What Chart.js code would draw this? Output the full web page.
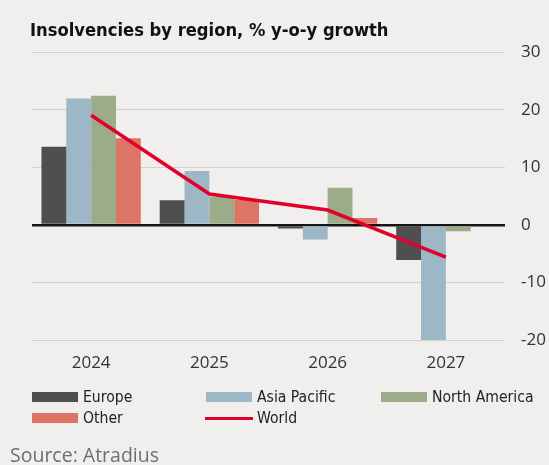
<!DOCTYPE html>
<html>
<head>
<meta charset="utf-8">
<script src="https://cdn.jsdelivr.net/npm/chart.js@4.4.0/dist/chart.umd.min.js"></script>
<style>
  html, body { margin: 0; padding: 0; background: #f1efed; }
  #wrap { position: relative; width: 549px; height: 465px; overflow: hidden; background: #f1efed; }
  #c { position: absolute; left: 0; top: 0; }
  #title { position: absolute; left: 30px; top: 19px; font-family: "DejaVu Sans Condensed", "DejaVu Sans", sans-serif; font-weight: bold; font-size: 18.2px; color: #111; white-space: nowrap; }
  .leg { position: absolute; font-family: "DejaVu Sans Condensed", "DejaVu Sans", sans-serif; font-size: 15.6px; color: #222; white-space: nowrap; display: flex; align-items: center; height: 20px; }
  .sw { width: 46px; height: 10px; margin-right: 5px; }
  .swl { width: 48px; height: 3px; margin-right: 4px; }
  #source { position: absolute; left: 10px; top: 441px; font-family: "Open Sans", sans-serif; font-size: 19.5px; color: #6e6e6e; white-space: nowrap; }
</style>
</head>
<body>
<div id="wrap">
  <canvas id="c" width="549" height="465"></canvas>
  <div id="title">Insolvencies by region, % y-o-y growth</div>
  <div id="legend"></div>
  <div id="source">Source: Atradius</div>
</div>
<script>
const categories = ['2024', '2025', '2026', '2027'];
const europe = [13.6, 4.3, -0.6, -6.1];
const asiaPacific = [22.0, 9.4, -2.5, -20.0];
const northAmerica = [22.5, 4.9, 6.5, -1.1];
const other = [15.1, 4.4, 1.2, null];
const world = [19.1, 5.4, 2.6, -5.6];
const seriesNames = ['Europe', 'Asia Pacific', 'North America', 'Other', 'World'];
const yMin = -20, yMax = 30, yStep = 10;

const colors = {
  'Europe': '#4f4f4f',
  'Asia Pacific': '#9db7c6',
  'North America': '#9cab89',
  'Other': '#dc7563',
  'World': '#e0022c'
};

const barData = [europe, asiaPacific, northAmerica, other];
const datasets = barData.map((d, i) => ({
  type: 'bar',
  label: seriesNames[i],
  data: d,
  backgroundColor: colors[seriesNames[i]],
  borderWidth: 0,
  categoryPercentage: 0.84,
  barPercentage: 1.0,
  order: 1
}));
datasets.push({
  type: 'line',
  label: 'World',
  data: world,
  borderColor: colors['World'],
  borderWidth: 3.5,
  pointRadius: 0,
  tension: 0,
  fill: false,
  order: 0
});

new Chart(document.getElementById('c'), {
  type: 'bar',
  data: { labels: categories, datasets },
  options: {
    responsive: false,
    animation: false,
    devicePixelRatio: 1,
    layout: { padding: { left: 32, top: 52.5, right: 0, bottom: 85 } },
    plugins: { legend: { display: false }, tooltip: { enabled: false }, title: { display: false } },
    scales: {
      x: {
        grid: { display: false, drawTicks: false },
        border: { display: false },
        ticks: { color: '#333', font: { family: 'Open Sans', size: 17 }, padding: 13 },
        afterFit: s => { s.height = 40; }
      },
      y: {
        position: 'right',
        min: yMin, max: yMax,
        grid: {
          drawTicks: false,
          color: ctx => (ctx.tick && ctx.tick.value === 0) ? '#151515' : '#d2d0ce',
          lineWidth: ctx => (ctx.tick && ctx.tick.value === 0) ? 2.5 : 1
        },
        border: { display: false },
        ticks: { stepSize: yStep, color: '#333', font: { family: 'Open Sans', size: 17 }, padding: 16 },
        afterFit: s => { s.width = 44; }
      }
    }
  }
});

// HTML legend built from series names and colors
const legendPos = [
  { x: 32, y: 387 }, { x: 206, y: 387 }, { x: 381, y: 387 },
  { x: 32, y: 408 }, { x: 205, y: 408 }
];
const legend = document.getElementById('legend');
seriesNames.forEach((name, i) => {
  const item = document.createElement('div');
  item.className = 'leg';
  item.style.left = legendPos[i].x + 'px';
  item.style.top = legendPos[i].y + 'px';
  const sw = document.createElement('div');
  sw.className = name === 'World' ? 'swl' : 'sw';
  sw.style.background = colors[name];
  const t = document.createElement('span');
  t.textContent = name;
  item.appendChild(sw);
  item.appendChild(t);
  legend.appendChild(item);
});
</script>
</body>
</html>
